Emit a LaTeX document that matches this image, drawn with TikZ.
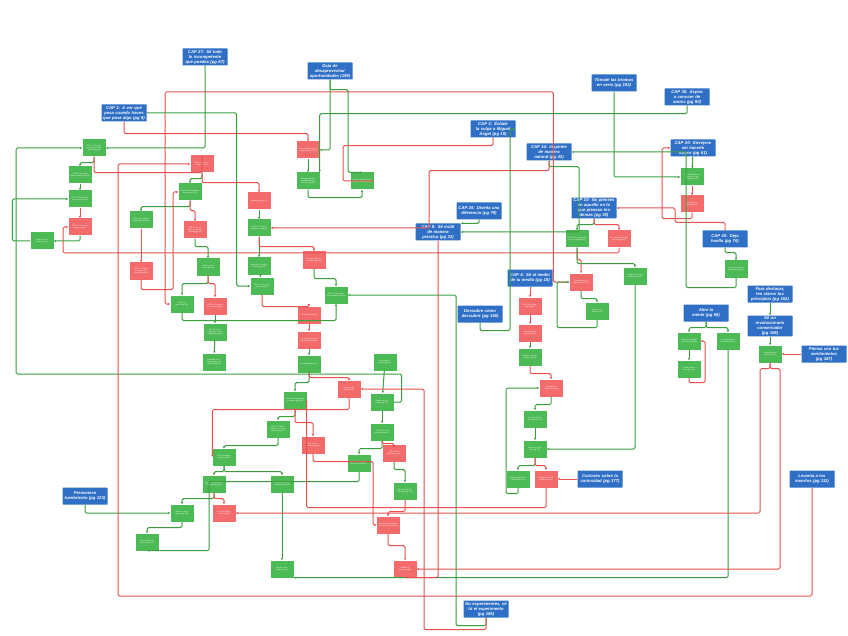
\documentclass[tikz,border=0pt]{standalone}
\usepackage{fontspec}
\setmainfont{Liberation Sans}
\usetikzlibrary{arrows.meta}
\definecolor{bl}{HTML}{2F6FC6}
\definecolor{gn}{HTML}{4DBB55}
\definecolor{rd}{HTML}{F36B6B}
\definecolor{gl}{HTML}{3A9E3F}
\definecolor{rl}{HTML}{E85050}
\begin{document}
\begin{tikzpicture}[x=1pt,y=-1pt,
 B/.style={fill=bl,text=white,font=\fontsize{4.2}{5}\selectfont\bfseries\itshape,align=center,text width=42pt,minimum width=45pt,minimum height=17pt,inner sep=1pt,rounded corners=0.5pt,execute at begin node={\hyphenpenalty=10000\exhyphenpenalty=10000}},
 G/.style={fill=gn,text=white,font=\fontsize{1.8}{2.2}\selectfont,align=center,text width=20pt,minimum width=23pt,minimum height=17pt,inner sep=0.5pt},
 R/.style={G,fill=rd},
 g/.style={draw=gl,line width=1pt,rounded corners=1.5pt,-{Latex[length=2.2pt,width=2.2pt]}},
 r/.style={draw=rl,line width=1pt,rounded corners=1.5pt,-{Latex[length=2.2pt,width=2.2pt]}}]
\useasboundingbox[fill=white] (0,0) rectangle (848,636);
% blue
\node[B] (b1) at (205,57) {CAP 27: Sé todo lo incompetente que puedas (pg 87)};
\node[B] (b2) at (330,71) {Deja de desaprovechar oportunidades (199)};
\node[B] (b3) at (124,113) {CAP 1: A ver qué pasa cuando haces que pasa algo (pg 8)};
\node[B] (b4) at (493,129) {CAP 3: Échale la culpa a Miguel Ángel (pg 15)};
\node[B] (b5) at (614,83) {Tómate las bromas en serio (pg 193)};
\node[B] (b6) at (687,97) {CAP 30: Aspira a conocer de motos (pg 90)};
\node[B] (b7) at (549,152) {CAP 14: Inspírate de manera natural (pg 43)};
\node[B] (b8) at (693,148) {CAP 20: Envejece sin hacerte mayor (pg 61)};
\node[B] (b9) at (479,211) {CAP 26: Diseña una diferencia (pg 79)};
\node[B] (b10) at (438,232) {CAP 8: Sé inútil de manera práctica (pg 32)};
\node[B] (b11) at (594,208) {CAP 10: No pienses en aquello en lo que piensan los demás (pg 35)};
\node[B] (b12) at (725,239) {CAP 25: Deja huella (pg 76)};
\node[B] (b13) at (530,278) {CAP 4: Sé al medio de tu medio (pg 18)};
\node[B] (b14) at (480,314) {Descubre cómo descubrir (pg 148)};
\node[B] (b15) at (770,294) {Para destacar, ten claros tus principios (pg 152)};
\node[B] (b16) at (706,313) {Abre la mente (pg 66)};
\node[B] (b17) at (770,326) {Sé un revolucionario conservador (pg 108)};
\node[B] (b18) at (824,354) {Piensa con tus sentimientos (pg 167)};
\node[B] (b19) at (600,479) {Curioseo sobre la curiosidad (pg 177)};
\node[B] (b20) at (85,496) {Permanece hambriento (pg 123)};
\node[B] (b21) at (812,479) {Levanta a los muertos (pg 111)};
\node[B] (b22) at (486,609) {No experimentes, sé tú el experimento (pg 186)};
% small
\node[G] (cap2) at (94,148) {CAP 2: Sé siempre el alumno principiante (pg 11)};
\node[G] (inv24) at (80,175) {CAP 24: Investiga como investigué (pg 73)};
\node[G] (duda) at (80,199) {CAP 12: Duda siempre de todo (pg 39)};
\node[R] (inc15) at (80,227) {CAP 15: Sé incompetente (pg 45)};
\node[G] (busca) at (42,241) {Busca un momento (pg 97)};
\node[R] (elige) at (202,164) {Elige lo que necesitas (pg 172)};
\node[G] (pract) at (190,192) {Practica el pensamiento cruzado (pg 219)};
\node[G] (valora) at (141,220) {Valora las cabezas compartidas (pg 204)};
\node[R] (cap17) at (195,230) {CAP 17: Sé un poco de creación cruzada (pg 51)};
\node[R] (cap23) at (141,271) {CAP 23: Mezcla lo poético y lo científico (pg 69)};
\node[G] (esc) at (208,267) {Escucha a tu mente (pg 152)};
\node[G] (sal) at (182,304) {Sal de tu mente (pg 154)};
\node[R] (cap28) at (215,306) {CAP 28: Escucha a tu mente (pg 85)};
\node[G] (cap16) at (215,332) {CAP 16: Sé incompetente con la competencia (pg 47)};
\node[G] (realiza) at (214,362) {Realízate la desaprobación y el rechazo (pg 119)};
\node[R] (imperf) at (259,201) {Imperfecto (pg 174)};
\node[G] (cap9) at (259,228) {CAP 9: Sé aquel otra persona (pg 34)};
\node[G] (acerca) at (259,266) {Acércate a la simple ciencia (pg 112)};
\node[G] (cap6) at (262,286) {CAP 6: Sé un generalista (pg 24)};
\node[R] (ciudad) at (314,260) {Escucha (sigue en la ciudad) (pg 131)};
\node[G] (cap5) at (336,295) {CAP 5: Sé positivo con lo negativo (pg 20)};
\node[R] (valiente) at (309,315) {Sé valiente (pg 196)};
\node[R] (noretro) at (309,340) {No retrocedas ante una decisión (pg 136)};
\node[R] (consig) at (308,150) {Para conseguir algo, no hagas nada (pg 134)};
\node[G] (func) at (308,181) {Funciona siempre decididamente la emoción (pg 93)};
\node[G] (logra) at (362,181) {Logra el equilibrio entre ocio y trabajo (pg 81)};
\node[G] (invest) at (309,364) {Investígate (pg 202)};
\node[G] (posit) at (385,362) {Sé positivo y atento (pg 190)};
\node[R] (acc) at (349,389) {Busca un accidente (131)};
\node[G] (relaj) at (295,400) {Relájate y luego sueña tu nombre (pg 206)};
\node[G] (exag) at (382,402) {Exagera tus intereses (pg 157)};
\node[G] (cap7) at (278,429) {CAP 7: Complementate con la competencia (pg 27)};
\node[G] (cap21) at (382,432) {CAP 21: Sé un poco más (pg 63)};
\node[R] (cap19) at (313,445) {CAP 19: Desconecta (pg 58)};
\node[R] (cap22) at (394,453) {CAP 22: Recupérate (pg 66)};
\node[G] (ponte) at (359,463) {Ponte a trabajar tus emociones (pg 153)};
\node[G] (sevir) at (224,457) {Sé ir conmueve a otros (pg 209)};
\node[G] (sealib) at (214,484) {Sea de la libertad una ocupación (pg 210)};
\node[G] (combina) at (282,484) {Combina tus incongruencias (pg 128)};
\node[G] (mira) at (405,491) {Mira más allá del horizonte (pg 184)};
\node[G] (hazcaso) at (182,513) {Haz caso en el primer (pg 198)};
\node[R] (ley) at (224,513) {Sé la ley del absurdo (pg 200)};
\node[G] (nunca) at (147,542) {Nunca dejes de aprender (pg 207)};
\node[R] (encu) at (388,525) {Encuentra el presente en un presente (pg 182)};
\node[G] (burb) at (282,569) {Sal de la burbuja (pg 160)};
\node[R] (aprende) at (405,569) {Aprende a perder (pg 99)};
\node[G] (ten) at (692,177) {Ten la habilidad suficiente para ser un bebé (pg 64)};
\node[R] (nodej) at (692,204) {No dejes de jugar (pg 170)};
\node[G] (cap11) at (577,239) {CAP 11: Sé perceptivo con lo perceptible (37)};
\node[R] (nite) at (619,239) {Ni te acerques al muy cercano (pg 169)};
\node[G] (accede) at (635,276) {Accede todo lo que puedas (pg 211)};
\node[R] (inter) at (581,282) {Investígate en el intermedio (pg 178)};
\node[G] (valcur) at (597,311) {Valora la curiosidad (161)};
\node[G] (nopas) at (736,269) {No pases por alto lo que pasa (pg 79)};
\node[R] (cap18) at (530,306) {CAP 18: Sé diferente (pg 55)};
\node[R] (para) at (530,333) {Para aprender, enseña (pg 149)};
\node[G] (cap13) at (530,357) {CAP 13: No seas experto (pg 40)};
\node[G] (buscav) at (689,341) {Busca la velocidad y aprende (pg 189)};
\node[G] (adec) at (728,341) {Sé tu adecuado en el arte (pg 171)};
\node[G] (contra) at (770,354) {Contradícete con todo (pg 164)};
\node[G] (acude) at (689,369) {Acude todo el buzón (pg 191)};
\node[R] (miraq) at (551,388) {Mira que los sueños (pg 166)};
\node[G] (acum) at (535,419) {Acumula todo lo que puedas (173)};
\node[G] (mirasen) at (535,449) {Mira que lo sencillo (pg 175)};
\node[G] (buscai) at (518,479) {Busca inspiración a cualquier (pg 181)};
\node[R] (preg) at (546,479) {Pregúntate hacia el futuro (pg 179)};
% edges
\draw[g] (b1.south) |- (cap2.east);
\draw[g] (cap2.south) -- ++(0,6) -| (inv24.north);
\draw[g] (inv24) -- (duda);
\draw[r] (duda) -- (inc15);
\draw[g] (inc15.south) |- (busca.east);
\draw[g] (busca.west) -- ++(-18,0) |- (duda.west);
\draw[g] (exag.east) -- ++(8,0) |- (16,374) |- (cap2.west);
\draw[r] (nite.south) |- (63,253) |- (inc15.west);
\draw[r] (inter.west) -- ++(-16,0) |- (165,92) |- (sal.west);
\draw[r] (b3.south) -- ++(0,12) -| (consig.north);
\draw[g] (b3.east) -- ++(90,0) |- (cap6.west);
\draw[g] (b2.south) -- ++(0,10) -- ++(18,0) |- (logra.north);
\draw[g] (b2.south) |- (consig.east);
\draw[g] (consig) -- (func);
\draw[g] (func.south) -- ++(0,8) -| (logra.south);
\draw[r] (cap2.south) -- ++(0,16) -| (elige.north);
\draw[g] (elige.south) -- ++(0,6) -| (pract.north);
\draw[r] (elige.south) -- ++(0,10) -| (imperf.north);
\draw[g] (pract.south) -- ++(0,6) -| (valora.north);
\draw[r] (pract.south) -- ++(0,10) -| (cap17.north);
\draw[r] (valora) -- (cap23);
\draw[r] (cap23.south) -- ++(0,10) -- ++(32,0) |- (pract.west);
\draw[g] (cap17.south) -- ++(0,8) -| (esc.north);
\draw[g] (esc.south) -- ++(0,8) -| (sal.north);
\draw[r] (esc.south) -- ++(0,8) -| (cap28.north);
\draw[g] (cap28) -- (cap16);
\draw[g] (cap16) -- (realiza);
\draw[g] (sal.south) -- ++(0,8) -| (cap5.south);
\draw[g] (imperf) -- (cap9);
\draw[g] (cap9) -- (acerca);
\draw[r] (cap9.south) -- ++(0,10) -| (ciudad.north);
\draw[g] (acerca) -- (cap6);
\draw[g] (ciudad.south) -- ++(0,10) -| (cap5.north);
\draw[r] (cap6.south) -- ++(0,12) -| (valiente.north);
\draw[r] (valiente) -- (noretro);
\draw[g] (noretro) -- (invest);
\draw[g] (invest.south) -- ++(0,10) -| (relaj.north);
\draw[r] (invest.south) -- ++(0,5) -| (acc.north);
\draw[g] (relaj.south) -- ++(0,8) -| (cap7.north);
\draw[r] (relaj.south) -- ++(0,14) -| (cap19.north);
\draw[g] (cap7.south) -- ++(0,8) -| (sevir.north);
\draw[g] (sevir.south) -- ++(0,6) -| (sealib.north);
\draw[g] (sevir.south) -- ++(0,6) -| (combina.north);
\draw[g] (sealib.south) -- ++(0,6) -| (hazcaso.north);
\draw[r] (sealib.south) -- ++(0,6) -| (ley.north);
\draw[g] (hazcaso.south) -- ++(0,6) -| (nunca.north);
\draw[g] (combina) -- (burb);
\draw[g] (b20.south) |- (hazcaso.west);
\draw[g] (posit) -- (exag);
\draw[g] (exag) -- (cap21);
\draw[g] (cap21.south) -- ++(0,8) -| (ponte.north);
\draw[r] (cap21.south) -- ++(0,3) -| (cap22.north);
\draw[g] (cap22.south) -- ++(0,8) -| (mira.north);
\draw[r] (mira.south) -- ++(0,12) -| (encu.north);
\draw[r] (encu.south) -- ++(0,12) -| (aprende.north);
\draw[r] (acc.south) -- ++(0,12) -| (sevir.west);
\draw[r] (cap19.south) -- ++(0,8) -- ++(60,0) |- (encu.west);
\draw[g] (ponte.south) -- ++(0,10) -- ++(-150,0) |- (nunca.south);
\draw[g] (b5.south) |- (ten.west);
\draw[g] (b8) -- (ten);
\draw[r] (ten) -- (nodej);
\draw[r] (nodej.south) -- ++(0,6) -- ++(-30,0) |- (b8.west);
\draw[g] (b6.south) -- ++(0,8) -| (func.north east);
\draw[g] (b11.south) -- ++(0,6) -| (cap11.north);
\draw[r] (b11.south) -- ++(0,6) -| (nite.north);
\draw[r] (cap11.south) -- ++(0,12) -| (inter.north);
\draw[g] (cap11.south) -- ++(0,16) -| (accede.north);
\draw[g] (inter.south) -- ++(0,8) -| (valcur.north);
\draw[g] (valcur.south) -- ++(0,8) -- ++(-40,0) |- (inter.west);
\draw[r] (b12.north) -- ++(0,-8) -- ++(-50,0) |- (b11.east);
\draw[g] (b12.south) -- ++(0,5) -| (nopas.north);
\draw[g] (nopas.south) -- ++(0,10) -- ++(-50,0) |- (b7.east);
\draw[g] (b7.south) -- ++(0,6) -- ++(30,0) |- (b10.east);
\draw[r] (b7.south) -- ++(0,10) -- ++(-120,0) |- (cap9.east);
\draw[g] (b9.south) |- (b10.north east);
\draw[r] (b4.south) -- ++(0,8) -- ++(-150,0) |- (logra.east);
\draw[g] (b14.south) -- ++(0,8) -- ++(30,0) |- (b4.east);
\draw[r] (b13) -- (cap18);
\draw[r] (cap18) -- (para);
\draw[g] (para) -- (cap13);
\draw[r] (cap13.south) -- ++(0,8) -| (miraq.north);
\draw[g] (miraq.south) -- ++(0,8) -| (acum.north);
\draw[g] (acum) -- (mirasen);
\draw[g] (mirasen.south) -- ++(0,8) -| (buscai.north);
\draw[r] (mirasen.south) -- ++(0,8) -| (preg.north);
\draw[r] (b19) -- (preg);
\draw[g] (accede.south) |- (mirasen.east);
\draw[g] (buscai.south) -- ++(0,6) -- ++(-12,0) |- (miraq.west);
\draw[g] (b16.south) -- ++(0,6) -| (buscav.north);
\draw[g] (b16.south) -- ++(0,6) -| (adec.north);
\draw[g] (buscav) -- (acude);
\draw[r] (acude.south) -- ++(0,5) -- ++(16,0) |- (buscav.east);
\draw[g] (adec.south) |- (burb.south east);
\draw[g] (b15) -- (b17);
\draw[g] (b17) -- (contra);
\draw[r] (b18) -- (contra);
\draw[r] (contra.south) -- ++(0,6) -- ++(-10,0) |- (ley.east);
\draw[r] (contra.south) -- ++(0,6) -- ++(10,0) |- (aprende.east);
\draw[r] (b21.south) |- (118,596) |- (elige.west);
\draw[g] (b22.south) -- ++(0,8) -- ++(-30,0) |- (cap5.east);
\draw[r] (b22.south) -- ++(0,12) -- ++(-62,0) |- (acc.east);
\draw[r] (preg.south) -- ++(0,20) -| (relaj.east);
\draw[r] (b10.south) |- (aprende.south);
\end{tikzpicture}
\end{document}
